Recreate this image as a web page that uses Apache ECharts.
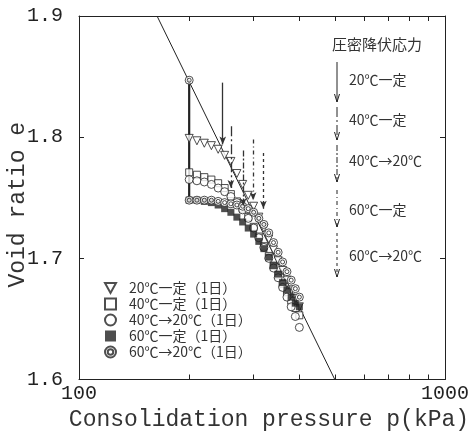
<!DOCTYPE html>
<html>
<head>
<meta charset="utf-8">
<script src="https://cdn.jsdelivr.net/npm/echarts@6/dist/echarts.min.js"></script>
<style>
  html, body { margin: 0; padding: 0; background: #fff; }
  #chart { width: 472px; height: 437px; }
</style>
</head>
<body>
<div id="chart"></div>
<script>
    // consolidation pressure (kPa) of the reloading steps
    var pressure = [200, 210, 220, 230, 240, 250, 260, 270, 280, 290, 300,
                    310, 320, 330, 340, 350, 360, 370, 380, 390, 400];

    // void ratio e for each test
    var e20 = [1.799, 1.797, 1.795, 1.793, 1.790, 1.785, 1.780, 1.770, 1.761, 1.752, 1.743,
               1.734, 1.725, 1.716, 1.707, 1.698, 1.690, 1.682, 1.674, 1.667, 1.660];
    var e40 = [1.771, 1.769, 1.767, 1.765, 1.762, 1.758, 1.753, 1.747, 1.741, 1.734, 1.726,
               1.718, 1.710, 1.702, 1.694, 1.686, 1.679, 1.672, 1.665, 1.659, 1.653];
    var e40to20 = [1.765, 1.764, 1.763, 1.761, 1.758, 1.755, 1.751, 1.746, 1.740, 1.733, 1.725,
                   1.717, 1.709, 1.700, 1.692, 1.684, 1.676, 1.668, 1.660, 1.652, 1.643];
    var e60 = [1.748, 1.748, 1.747, 1.746, 1.744, 1.741, 1.738, 1.734, 1.730, 1.725, 1.720,
               1.714, 1.708, 1.701, 1.694, 1.687, 1.680, 1.674, 1.668, 1.663, 1.660];
    var e60to20 = [1.748, 1.748, 1.748, 1.748, 1.747, 1.746, 1.745, 1.744, 1.743, 1.741, 1.738,
                   1.733, 1.728, 1.721, 1.713, 1.705, 1.697, 1.689, 1.682, 1.675, 1.668];

    // 200 kPa: void ratio just after loading, and after 1 day
    var initialP = [200, 200];
    var initialE = [1.847, 1.748];

    // normal consolidation line
    var nclP = [163.4, 500];
    var nclE = [1.9, 1.6];

    // consolidation yield stress arrows
    var yieldNames = ['20℃一定', '40℃一定', '40℃→20℃', '60℃一定', '60℃→20℃'];
    var yieldP = [247, 260, 281, 299, 319];
    var yieldFrom = [1.845, 1.809, 1.789, 1.798, 1.787];
    var yieldTo = [1.794, 1.758, 1.743, 1.748, 1.741];
    var yieldDash = ['solid', [10, 3, 2, 3], [6, 2, 2, 2], [4, 3, 1, 3], [3, 3]];

    var seriesNames = ['20℃一定（1日）', '40℃一定（1日）', '40℃→20℃（1日）', '60℃一定（1日）', '60℃→20℃（1日）'];

    var xTicks = [100, 200, 300, 400, 500, 600, 700, 800, 900, 1000];
    var xLabels = [100, 1000];

    var downTriangle = 'path://M0,0L20,0L10,18Z';
    var dblCircle = 'path://M10,0A10,10,0,1,1,10,20A10,10,0,1,1,10,0ZM10,5A5,5,0,1,1,10,15A5,5,0,1,1,10,5Z';

    function pairs(xs, ys) {
        return xs.map(function (x, i) { return [x, ys[i]]; });
    }

    var ink = '#222';
    var openStyle = { color: '#fff', borderColor: ink, borderWidth: 1 };

    function markers(name, ys, symbol, style, extra) {
        var s = {
            name: name,
            type: 'scatter',
            data: pairs(pressure, ys),
            symbol: symbol,
            symbolSize: 8,
            itemStyle: style
        };
        for (var k in extra) s[k] = extra[k];
        return s;
    }

    var chart = echarts.init(document.getElementById('chart'));

    var monoAxis = { fontFamily: 'Liberation Mono', fontSize: 20, color: ink };

    // right-hand key for the arrows (legend decoration)
    var keyX = 337;
    var keyTop = [62, 107, 145, 190, 233];
    var keyBottom = [102, 140, 182, 227, 277];
    var keyTextY = [82, 122, 163, 212, 258];
    var graphics = [{
        type: 'text', left: 332, top: 37,
        style: { text: '圧密降伏応力', font: '15px "Noto Sans CJK JP"', fill: '#333' }
    }];
    yieldNames.forEach(function (n, i) {
        graphics.push({
            type: 'line',
            shape: { x1: keyX, y1: keyTop[i], x2: keyX, y2: keyBottom[i] },
            style: { stroke: ink, lineWidth: 1, lineDash: yieldDash[i] === 'solid' ? null : yieldDash[i] }
        });
        graphics.push({
            type: 'polyline',
            shape: { points: [[keyX - 2.5, keyBottom[i] - 8], [keyX, keyBottom[i]], [keyX + 2.5, keyBottom[i] - 8]] },
            style: { stroke: ink, lineWidth: 1, fill: null }
        });
        graphics.push({
            type: 'text', left: 349, top: keyTextY[i] - 9,
            style: { text: n, font: '14px "Noto Sans CJK JP"', fill: '#333' }
        });
    });

    var option = {
        animation: false,
        backgroundColor: '#fff',
        grid: { left: 79, right: 27, top: 16, bottom: 57.5, outerBoundsMode: 'none', containLabel: false },
        legend: {
            orient: 'vertical',
            left: 99, top: 276,
            itemWidth: 11, itemHeight: 11, itemGap: 2,
            data: seriesNames,
            textStyle: { fontFamily: 'Noto Sans CJK JP', fontSize: 14, color: '#333', padding: [0, 0, 0, 8] }
        },
        xAxis: [{
            type: 'log', logBase: 10, min: 100, max: 1000,
            axisLine: { lineStyle: { color: ink } },
            axisTick: { inside: true, length: 5, customValues: xTicks, lineStyle: { color: ink } },
            axisLabel: Object.assign({ customValues: xLabels, margin: 4, formatter: function (v) { return String(v); } }, monoAxis),
            splitLine: { show: false },
            name: 'Consolidation pressure p(kPa)',
            nameLocation: 'middle', nameGap: 29, nameMoveOverlap: false,
            nameTextStyle: { fontFamily: 'Liberation Mono', fontSize: 23, color: '#333', padding: [0, 0, 0, 14] }
        }, {
            type: 'log', logBase: 10, min: 100, max: 1000, position: 'top',
            axisLine: { lineStyle: { color: ink } },
            axisTick: { inside: true, length: 5, customValues: xTicks, lineStyle: { color: ink } },
            axisLabel: { show: false },
            splitLine: { show: false }
        }],
        yAxis: [{
            type: 'value', min: 1.6, max: 1.9, interval: 0.1,
            axisLine: { show: true, lineStyle: { color: ink } },
            axisTick: { show: true, inside: true, length: 5, lineStyle: { color: ink } },
            axisLabel: Object.assign({ margin: 16, formatter: function (v) { return v.toFixed(1); } }, monoAxis),
            splitLine: { show: false },
            name: 'Void ratio e',
            nameLocation: 'middle', nameGap: 50, nameMoveOverlap: false,
            nameTextStyle: { fontFamily: 'Liberation Mono', fontSize: 23, color: '#333', padding: [0, 14, 0, 0] }
        }, {
            type: 'value', min: 1.6, max: 1.9, interval: 0.1, position: 'right',
            axisLine: { show: true, lineStyle: { color: ink } },
            axisTick: { show: true, inside: true, length: 5, lineStyle: { color: ink } },
            axisLabel: { show: false },
            splitLine: { show: false }
        }],
        graphic: graphics,
        series: [
            {
                name: 'NCL', type: 'line', data: pairs(nclP, nclE),
                symbol: 'none', lineStyle: { color: ink, width: 1 }, clip: true, z: 1
            },
            {
                name: 'initial', type: 'line', data: pairs(initialP, initialE),
                symbol: 'none', lineStyle: { color: ink, width: 2.2 }, z: 1
            },
            {
                name: 'yield', type: 'line', data: [], z: 1,
                markLine: {
                    silent: true, symbol: ['none', 'arrow'], symbolSize: [5, 8],
                    label: { show: false },
                    data: yieldP.map(function (p, i) {
                        return [
                            { coord: [p, yieldFrom[i]], lineStyle: { color: '#333', width: 1.3, type: yieldDash[i] } },
                            { coord: [p, yieldTo[i]] }
                        ];
                    })
                }
            },
            markers(seriesNames[0], e20, downTriangle, openStyle, {}),
            markers(seriesNames[1], e40, 'rect', openStyle, { symbolSize: 7 }),
            markers(seriesNames[2], e40to20, 'circle', openStyle, {}),
            markers(seriesNames[3], e60, 'rect', { color: ink }, { symbolSize: 7 }),
            markers(seriesNames[4], e60to20, dblCircle, openStyle, {
                data: pairs(pressure, e60to20).concat([[initialP[0], initialE[0]]])
            })
        ]
    };

    chart.setOption(option);
</script>
</body>
</html>
